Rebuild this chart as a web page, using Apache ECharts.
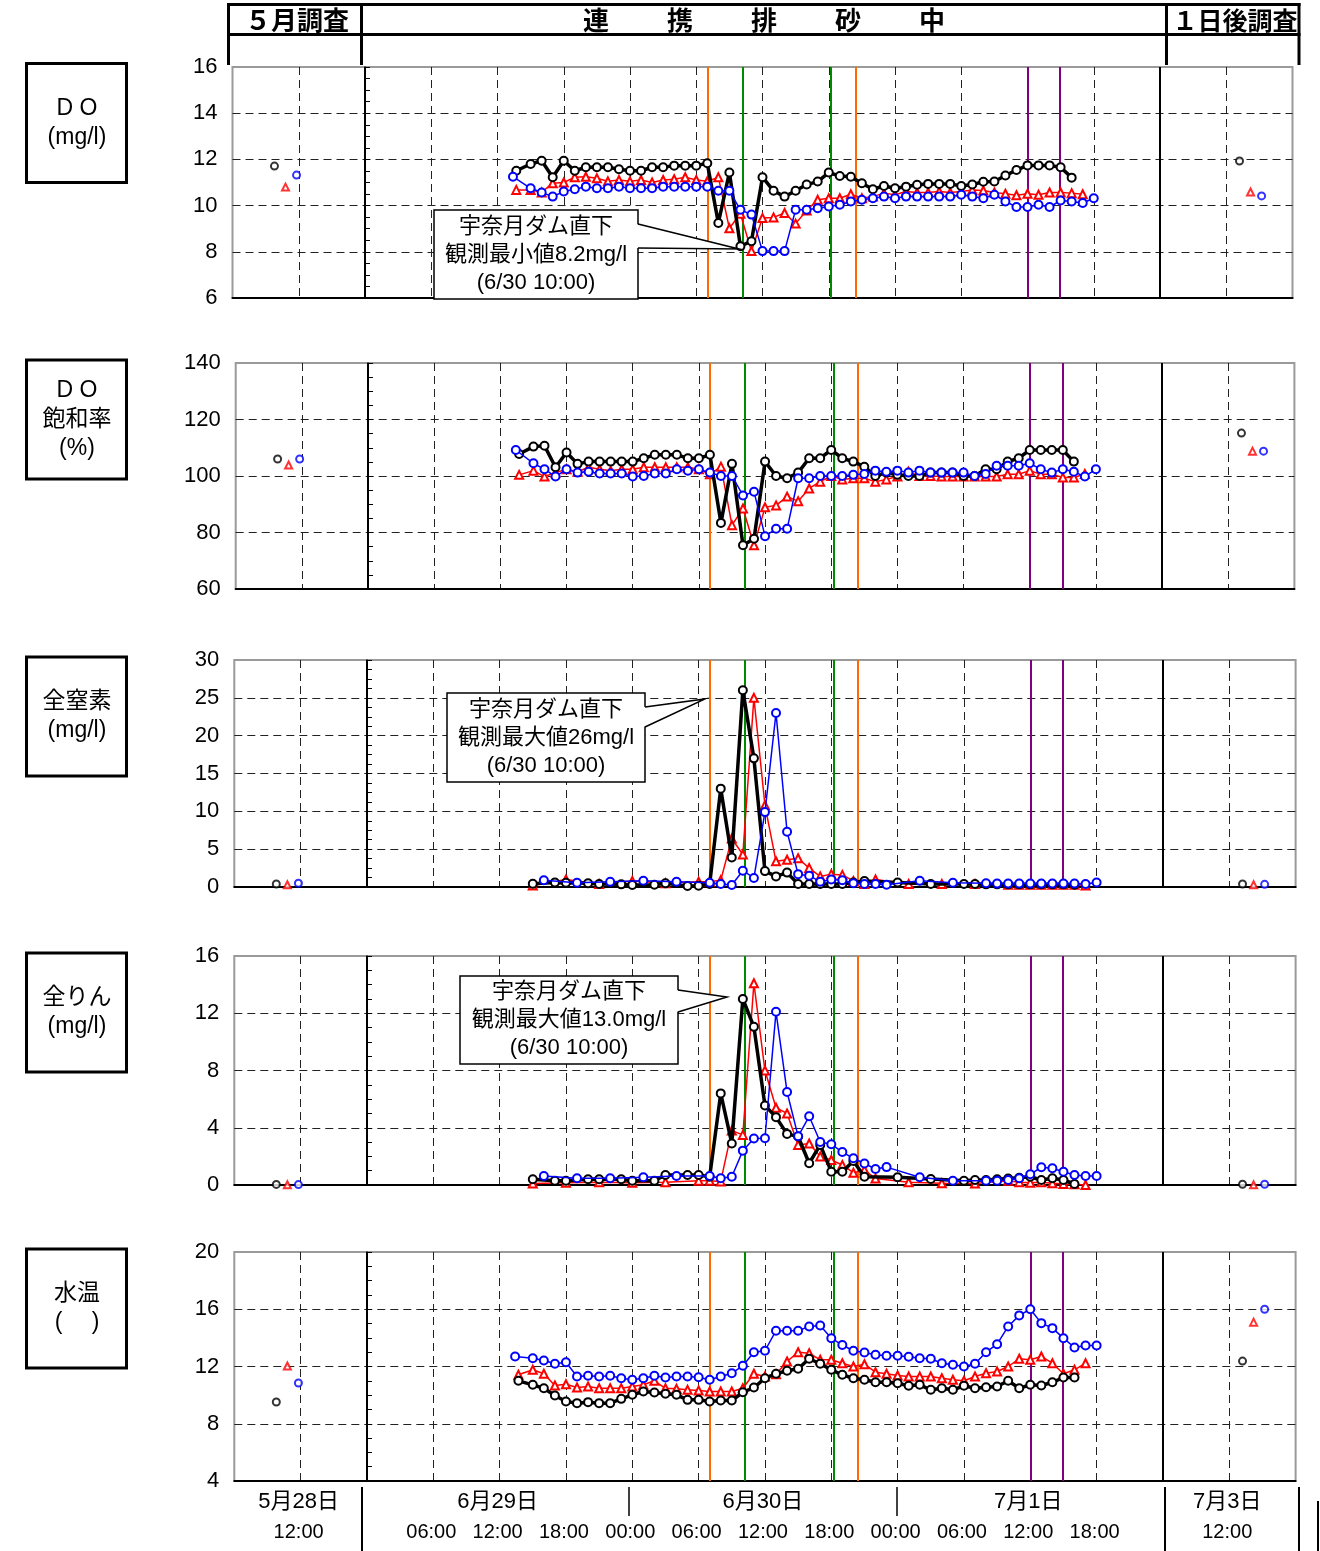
<!DOCTYPE html>
<html><head><meta charset="utf-8">
<script src="https://cdn.jsdelivr.net/npm/echarts@6/dist/echarts.min.js"></script>
<style>html,body{margin:0;padding:0;background:#fff}#c{width:1320px;height:1551px}</style>
</head><body><div id="c"></div>
<script>
// ---------- time arrays (hours since 6/29 00:00; 5/28 section = -12..0, 7/3 section = 72..84) ----------
const tHourBlack = [13.7,15,16,17,18,19,20,21,22,23,24,25,26,27,28,29,30,31,32,33,34,35,36,37,38,39,40,41,42,43,44,45,46,47,48,49,50,51,52,53,54,55,56,57,58,59,60,61,62,63,64];
const tHourRed   = [13.7,15,16,17,18,19,20,21,22,23,24,25,26,27,28,29,30,31,32,33,34,35,36,37,38,39,40,41,42,43,44,45,46,47,48,49,50,51,52,53,54,55,56,57,58,59,60,61,62,63,64,65];
const tHourBlue  = [13.4,15,16,17,18,19,20,21,22,23,24,25,26,27,28,29,30,31,32,33,34,35,36,37,38,39,40,41,42,43,44,45,46,47,48,49,50,51,52,53,54,55,56,57,58,59,60,61,62,63,64,65,66];
const tWqBlack = [15,17,18,20,21,23,24,26,27,29,30,31,32,33,34,35,36,37,38,39,40,41,42,43,44,45,48,51,54,55,56,57,58,59,60,61,62,63,64];
const tWqRed   = [15,18,21,24,27,30,31,32,33,34,35,36,37,38,39,40,41,42,43,44,45,46,49,52,55,58,59,60,61,62,63,64,65];
const tWqBlue  = [16,19,22,25,28,31,32,33,34,35,36,37,38,39,40,41,42,43,44,45,46,47,50,53,56,57,58,59,60,61,62,63,64,65,66];
const tSurveyBlack = [-8.2, 79.2];
const tSurveyRed   = [-7.2, 80.2];
const tSurveyBlue  = [-6.2, 81.2];

// ---------- DO (mg/l) ----------
const doBlack = [11.51,11.8,11.94,11.23,11.94,11.51,11.66,11.66,11.66,11.57,11.51,11.51,11.66,11.66,11.73,11.73,11.73,11.83,9.25,11.43,8.24,8.46,11.23,10.64,10.39,10.64,10.91,11.04,11.43,11.28,11.25,10.97,10.71,10.85,10.75,10.82,10.9,10.94,10.94,10.94,10.85,10.91,11.03,11.04,11.3,11.54,11.74,11.74,11.74,11.66,11.21];
const doRed = [10.68,10.68,10.57,10.97,11.0,11.23,11.25,11.18,11.05,11.11,11.05,11.11,11.0,11.11,11.14,11.23,11.11,11.05,11.23,9.02,9.65,8.03,9.46,9.49,9.68,9.22,9.79,10.25,10.32,10.32,10.49,10.32,10.39,10.54,10.47,10.61,10.57,10.57,10.61,10.57,10.61,10.68,10.65,10.57,10.51,10.45,10.51,10.47,10.57,10.57,10.54,10.49];
const doBlue = [11.25,10.75,10.57,10.39,10.61,10.71,10.82,10.75,10.75,10.82,10.75,10.75,10.75,10.82,10.82,10.82,10.82,10.82,10.64,10.64,9.82,9.61,8.03,8.03,8.03,9.82,9.82,9.89,9.96,10.04,10.18,10.25,10.32,10.39,10.32,10.39,10.39,10.39,10.39,10.39,10.47,10.39,10.32,10.47,10.18,9.94,9.94,10.04,9.94,10.22,10.18,10.11,10.32];
const doSurveyBlack = [11.71, 11.93];
const doSurveyRed   = [10.8, 10.59];
const doSurveyBlue  = [11.32, 10.42];

// ---------- DO saturation (%) ----------
const satBlack = [107.8,110.4,110.7,103.1,108.3,104.3,105.1,105.1,105.1,105.1,105.1,106.3,107.5,107.5,107.5,106.3,106.3,107.5,83.4,104.3,75.5,77.8,105.1,100,99.2,101.2,106.3,106.3,109.2,106.3,105.1,103.3,100,101.2,100.4,100,100,101.2,101.2,101.2,100,100,102.4,102.4,105.1,106.3,109.2,109.2,109.2,109.2,105.1];
const satRed = [100.4,101.9,99.8,101.2,102.4,101.5,103.1,102.4,101.9,102.4,102.4,103.1,103.1,103.1,103.1,103.1,102.4,100.6,103.3,82.6,88.5,75.5,88.9,89.6,92.7,91.1,95.6,98,100,98.8,99.2,99.2,98,98.8,99.8,101.5,100,100,99.8,99.8,99.8,99.8,99.8,99.8,100.6,100.6,101.9,100.6,100.6,99.5,99.5,100.7];
const satBlue = [109.2,104.5,102.4,99.8,102.4,101.2,101.5,100.9,100.9,100.9,99.8,100,100.9,100.9,102.4,101.9,102.4,101.2,100,100,93.1,94.4,78.7,81.3,81.3,99.2,99.2,100,100,100,100.4,100.7,101.9,101.5,101.9,101.2,101.9,101.2,101.2,101.2,101.2,100,100.7,103.6,103.6,103.6,104.5,102.4,101.2,102.4,101.5,99.8,102.4];
const satSurveyBlack = [106.0, 115.2];
const satSurveyRed   = [103.9, 108.8];
const satSurveyBlue  = [106.0, 108.8];

// ---------- Total nitrogen (mg/l) ----------
const tnBlack = [0.44,0.6,0.57,0.48,0.4,0.35,0.26,0.3,0.48,0.13,0.18,0.4,13.0,3.9,26.0,17.0,2.1,1.4,1.9,0.4,0.4,0.4,0.4,0.4,0.6,0.8,0.6,0.4,0.4,0.4,0.35,0.35,0.35,0.35,0.35,0.35,0.35,0.35,0.3];
const tnRed = [0.2,1.0,0.4,0.8,0.5,0.7,0.7,0.9,6.4,4.3,25.0,10.8,3.4,3.6,3.8,2.5,1.4,1.7,1.6,0.8,0.4,1.0,0.4,0.4,0.4,0.3,0.3,0.3,0.3,0.3,0.3,0.3,0.2];
const tnBlue = [0.9,0.57,0.7,0.83,0.7,0.57,0.4,0.26,2.15,1.2,9.9,23.0,7.3,1.7,1.5,0.7,1.0,0.9,0.5,0.4,0.4,0.3,0.83,0.57,0.5,0.45,0.45,0.45,0.45,0.45,0.45,0.45,0.45,0.4,0.6];
const tnSurveyBlack = [0.4, 0.4];
const tnSurveyRed   = [0.3, 0.3];
const tnSurveyBlue  = [0.5, 0.35];

// ---------- Total phosphorus (mg/l) ----------
const tpBlack = [0.4,0.3,0.3,0.4,0.4,0.4,0.3,0.3,0.7,0.7,0.7,0.58,6.4,2.9,13.0,11.05,5.56,4.74,3.57,3.39,1.52,2.8,0.93,0.93,1.68,0.58,0.54,0.42,0.3,0.35,0.35,0.4,0.45,0.5,0.58,0.35,0.47,0.35,0.07];
const tpRed = [0.1,0.15,0.2,0.15,0.2,0.3,0.3,0.25,3.8,3.5,14.1,8.0,5.4,5.0,2.8,2.9,2.0,1.75,1.4,0.86,1.05,0.45,0.19,0.12,0.1,0.3,0.2,0.15,0.2,0.12,0.07,0.05,0.0];
const tpBlue = [0.63,0.47,0.47,0.54,0.63,0.63,0.47,0.58,2.4,3.25,3.27,12.1,6.5,3.4,4.8,3.0,2.85,2.3,1.87,1.5,1.12,1.25,0.54,0.3,0.3,0.3,0.35,0.47,0.75,1.24,1.17,0.93,0.7,0.63,0.63];
const tpSurveyBlack = [0.04, 0.05];
const tpSurveyRed   = [0.02, 0.01];
const tpSurveyBlue  = [0.03, 0.05];

// ---------- Water temperature ----------
const wtBlack = [11.0,10.72,10.48,9.97,9.55,9.44,9.51,9.44,9.44,9.74,10.02,10.25,10.18,10.09,10.02,9.67,9.67,9.55,9.62,9.62,10.2,10.53,11.18,11.49,11.7,11.84,12.54,12.19,11.77,11.42,11.18,11.07,10.9,10.9,10.83,10.65,10.72,10.37,10.48,10.37,10.65,10.48,10.55,10.6,11.0,10.48,10.72,10.67,10.9,11.23,11.23];
const wtRed = [11.42,11.77,11.49,10.67,10.76,10.53,10.6,10.48,10.48,10.48,10.6,10.72,11.0,10.48,10.44,10.37,10.32,10.25,10.25,10.25,10.48,11.49,11.3,11.46,12.35,13.0,12.93,12.47,12.47,12.23,12.0,12.16,11.6,11.49,11.37,11.3,11.3,11.3,11.18,11.07,11.0,11.3,11.53,11.65,12.0,12.54,12.47,12.7,12.23,11.49,11.77,12.23];
const wtBlue = [12.7,12.58,12.42,12.19,12.3,11.3,11.35,11.3,11.35,11.18,11.07,11.18,11.35,11.23,11.3,11.3,11.25,11.07,11.3,11.53,12.05,13.0,13.1,14.5,14.5,14.5,14.8,14.87,13.98,13.5,13.1,12.98,12.82,12.75,12.75,12.68,12.58,12.54,12.23,12.12,12.0,12.19,13.0,13.56,14.8,15.57,16.0,15.03,14.68,13.98,13.33,13.47,13.47];
const wtSurveyBlack = [9.52, 12.38];
const wtSurveyRed   = [12.03, 15.1];
const wtSurveyBlue  = [10.85, 16.0];

// ---------- event lines (hours) & section boundaries ----------
const eventHours = [31.0, 34.2, 42.2, 44.4, 60.0, 62.95];
const sectionHours = [0, 72];

// ---------- axis tick labels ----------
const tickHours = [-6, 6, 12, 18, 24, 30, 36, 42, 48, 54, 60, 66, 78];
const tickTimes = ['12:00','06:00','12:00','18:00','00:00','06:00','12:00','18:00','00:00','06:00','12:00','18:00','12:00'];
const tickDates = ['5月28日','','6月29日','','','','6月30日','','','','7月1日','','7月3日'];

// ---------- panel labels ----------
const panelLabels = [['D O','(mg/l)'], ['D O','飽和率','(%)'], ['全窒素','(mg/l)'], ['全りん','(mg/l)'], ['水温','(\u3000 )']];
const yRanges = [[6,16,2],[60,140,20],[0,30,5],[0,16,4],[4,20,4]];

// ================= build =================
const FONT = "'Liberation Sans','Noto Sans CJK JP',sans-serif";
const CJK = "'Noto Sans CJK JP','Liberation Sans',sans-serif";
const eventColors = ['#FF6A00','#008A00','#008A00','#FF6A00','#800080','#800080'];

const panels = [
  {hb:tHourBlack, hr:tHourRed, hu:tHourBlue, b:doBlack, r:doRed, u:doBlue, sb:doSurveyBlack, sr:doSurveyRed, su:doSurveyBlue},
  {hb:tHourBlack, hr:tHourRed, hu:tHourBlue, b:satBlack, r:satRed, u:satBlue, sb:satSurveyBlack, sr:satSurveyRed, su:satSurveyBlue},
  {hb:tWqBlack, hr:tWqRed, hu:tWqBlue, b:tnBlack, r:tnRed, u:tnBlue, sb:tnSurveyBlack, sr:tnSurveyRed, su:tnSurveyBlue},
  {hb:tWqBlack, hr:tWqRed, hu:tWqBlue, b:tpBlack, r:tpRed, u:tpBlue, sb:tpSurveyBlack, sr:tpSurveyRed, su:tpSurveyBlue},
  {hb:tHourBlack, hr:tHourRed, hu:tHourBlue, b:wtBlack, r:wtRed, u:wtBlue, sb:wtSurveyBlack, sr:wtSurveyRed, su:wtSurveyBlue}
];
const gridPos = [
  {left:232.5, top:67,   width:1060,   height:231},
  {left:235.7, top:363,  width:1058.7, height:226},
  {left:234.3, top:660,  width:1061.3, height:227},
  {left:234.3, top:956,  width:1061.3, height:229},
  {left:234.3, top:1252, width:1061.3, height:229}
];
const pairs = (t, v) => t.map((x, i) => [x, v[i]]);
const dash = [8, 5];

const grids = [], xAxes = [], yAxes = [], series = [];
panels.forEach((p, i) => {
  grids.push(Object.assign({show:true, borderColor:'#9a9a9a', borderWidth:2, backgroundColor:'transparent'}, gridPos[i]));
  xAxes.push({
    gridIndex:i, type:'value', min:-12, max:84, interval:6,
    axisLine:{show:true, onZero:false, lineStyle:{color:'#000', width:2}},
    axisTick:{show:false},
    splitLine:{show:true, showMinLine:false, showMaxLine:false, lineStyle:{color:'#222', width:1, type:dash}},
    axisLabel: i === 4 ? {
      show:true, interval:0, margin:6, hideOverlap:false, showMinLabel:true, showMaxLabel:true,
      padding:[0, 4, 0, 0],
      formatter: v => {
        const k = tickHours.indexOf(v);
        if (k < 0) return '';
        return '{d|' + (tickDates[k] || ' ') + '}\n{t|' + tickTimes[k] + '}';
      },
      rich:{
        d:{fontSize:22, lineHeight:30, fontFamily:FONT, color:'#000'},
        t:{fontSize:20, lineHeight:30, fontFamily:FONT, color:'#000'}
      }
    } : {show:false}
  });
  const yr = yRanges[i];
  yAxes.push({
    gridIndex:i, type:'value', min:yr[0], max:yr[1], interval:yr[2],
    axisLine:{show:true, lineStyle:{color:'#000', width:1.5}},
    axisTick:{show:true, inside:true, length:5, lineStyle:{color:'#000', width:1}},
    minorTick:{show:true, splitNumber:4, length:5, lineStyle:{color:'#000', width:1}},
    splitLine:{show:true, showMinLine:false, showMaxLine:false, lineStyle:{color:'#222', width:1, type:dash}},
    axisLabel:{fontSize:22, color:'#000', margin:15, fontFamily:FONT}
  });
  const mlData = sectionHours.map(h => ({xAxis:h, lineStyle:{color:'#000', width:2, type:'solid'}}))
    .concat(eventHours.map((h, k) => ({xAxis:h, lineStyle:{color:eventColors[k], width:2, type:'solid'}})));
  const common = {xAxisIndex:i, yAxisIndex:i, animation:false, silent:true, emphasis:{disabled:true}};
  series.push(Object.assign({
    type:'line', data:pairs(p.hr, p.r), symbol:'emptyTriangle', symbolSize:8, showAllSymbol:true,
    itemStyle:{color:'#FF0000', borderWidth:1.6}, lineStyle:{color:'#FF0000', width:1.5}, z:3,
    markLine:{symbol:['none','none'], silent:true, animation:false, label:{show:false}, data:mlData, z:2}
  }, common));
  series.push(Object.assign({
    type:'line', data:pairs(p.hb, p.b), symbol:'emptyCircle', symbolSize:8, showAllSymbol:true,
    itemStyle:{color:'#000', borderWidth:2.2}, lineStyle:{color:'#000', width:3.5}, z:4
  }, common));
  series.push(Object.assign({
    type:'line', data:pairs(p.hu, p.u), symbol:'emptyCircle', symbolSize:8, showAllSymbol:true,
    itemStyle:{color:'#0000FF', borderWidth:1.6}, lineStyle:{color:'#0000FF', width:1.5}, z:5
  }, common));
  series.push(Object.assign({type:'scatter', data:pairs(tSurveyBlack, p.sb), symbol:'emptyCircle', symbolSize:7, itemStyle:{color:'#000', borderWidth:1.6}, z:5}, common));
  series.push(Object.assign({type:'scatter', data:pairs(tSurveyRed, p.sr), symbol:'emptyTriangle', symbolSize:7, itemStyle:{color:'#FF0000', borderWidth:1.6}, z:5}, common));
  series.push(Object.assign({type:'scatter', data:pairs(tSurveyBlue, p.su), symbol:'emptyCircle', symbolSize:7, itemStyle:{color:'#0000FF', borderWidth:1.6}, z:5}, common));
});

// ---------- graphics: header table, label boxes, callouts, bottom separators ----------
const g = [];
const line = (x1, y1, x2, y2, w) => g.push({type:'line', silent:true, z:50, shape:{x1, y1, x2, y2}, style:{stroke:'#000', lineWidth:w}});
const text = (t, x, y, size, font, weight, extra) => g.push({type:'text', silent:true, z:60,
  style:Object.assign({text:t, x, y, fontSize:size, fontFamily:font, fontWeight:weight || 'normal', fill:'#000', align:'center', verticalAlign:'middle'}, extra || {})});

// header
line(227, 4.5, 1300.5, 4.5, 3);
line(227, 34.5, 1300.5, 34.5, 3);
[228.5, 361.5, 1166.5, 1299].forEach(x => line(x, 3, x, 65, 3));
text('５月調査', 297, 20, 26, CJK, 'bold');
['連','携','排','砂','中'].forEach((c, k) => text(c, 596 + k * 84, 20, 26, CJK, 'bold'));
text('１日後調査', 1235, 20, 25, CJK, 'bold');

// label boxes
const boxTops = [63.5, 360, 657, 953, 1249];
panelLabels.forEach((lines, i) => {
  g.push({type:'rect', silent:true, z:50, shape:{x:26.5, y:boxTops[i], width:100, height:119}, style:{fill:'#fff', stroke:'#000', lineWidth:3}});
  text(lines.join('\n'), 77, boxTops[i] + 59.5, 23, FONT, 'normal', {lineHeight:29});
});

// callouts
function callout(x, y, w, h, lines, b1, tip, b2) {
  g.push({type:'rect', silent:true, z:70, shape:{x, y, width:w, height:h}, style:{fill:'#fff', stroke:'#000', lineWidth:1.5}});
  g.push({type:'polygon', silent:true, z:71, shape:{points:[[b1[0]-1.5, b1[1]], tip, [b2[0]-1.5, b2[1]]]}, style:{fill:'#fff', stroke:null}});
  g.push({type:'polyline', silent:true, z:72, shape:{points:[b1, tip, b2]}, style:{fill:null, stroke:'#000', lineWidth:1.5}});
  g.push({type:'text', silent:true, z:73, style:{text:lines.join('\n'), x:x + w / 2, y:y + h / 2, fontSize:22, fontFamily:FONT, fill:'#000', align:'center', verticalAlign:'middle', lineHeight:28}});
}
callout(434, 210, 204, 89, ['宇奈月ダム直下','観測最小値8.2mg/l','(6/30 10:00)'], [638, 224], [739, 249], [638, 248]);
callout(447, 693, 198, 89, ['宇奈月ダム直下','観測最大値26mg/l','(6/30 10:00)'], [645, 707], [705, 699], [645, 727]);
callout(460, 976, 218, 88, ['宇奈月ダム直下','観測最大値13.0mg/l','(6/30 10:00)'], [678, 990], [727, 997], [678, 1012]);

// bottom separators
line(362, 1487, 362, 1551, 2);
line(629, 1487, 629, 1516, 1.5);
line(897, 1487, 897, 1516, 1.5);
line(1165, 1487, 1165, 1551, 2);
line(1299, 1487, 1299, 1551, 2);
line(1318, 1501, 1318, 1551, 2);

const chart = echarts.init(document.getElementById('c'), null, {renderer:'canvas', devicePixelRatio:1});
chart.setOption({
  backgroundColor:'#fff',
  animation:false,
  textStyle:{fontFamily:FONT},
  grid:grids, xAxis:xAxes, yAxis:yAxes, series:series,
  graphic:{elements:g}
});
</script></body></html>
